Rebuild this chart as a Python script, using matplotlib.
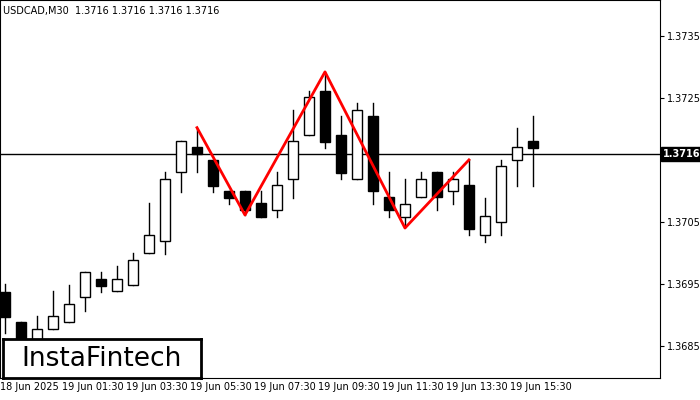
import matplotlib
matplotlib.use("Agg")
import matplotlib.pyplot as plt
from matplotlib.patches import Rectangle

opens  = [1.36937,1.36889,1.36860,1.36877,1.36889,1.36929,1.36958,1.36939,1.36948,1.37000,
          1.37019,1.37131,1.37171,1.37150,1.37100,1.37100,1.37081,1.37069,1.37119,1.37190,
          1.37261,1.37190,1.37119,1.37221,1.37090,1.37058,1.37090,1.37131,1.37100,1.37110,
          1.37029,1.37050,1.37150,1.37181]
highs  = [1.36950,1.36889,1.36898,1.36939,1.36948,1.36969,1.36969,1.36979,1.37000,1.37081,
          1.37131,1.37181,1.37202,1.37150,1.37100,1.37100,1.37100,1.37131,1.37231,1.37261,
          1.37292,1.37221,1.37242,1.37242,1.37131,1.37119,1.37131,1.37131,1.37131,1.37150,
          1.37089,1.37150,1.37202,1.37221]
lows   = [1.36870,1.36844,1.36860,1.36877,1.36889,1.36906,1.36937,1.36939,1.36948,1.37000,
          1.36998,1.37098,1.37131,1.37098,1.37079,1.37061,1.37058,1.37058,1.37089,1.37190,
          1.37169,1.37119,1.37119,1.37079,1.37058,1.37042,1.37090,1.37069,1.37079,1.37029,
          1.37018,1.37029,1.37108,1.37108]
closes = [1.36897,1.36852,1.36877,1.36898,1.36918,1.36969,1.36947,1.36958,1.36989,1.37029,
          1.37119,1.37181,1.37160,1.37108,1.37089,1.37069,1.37058,1.37110,1.37181,1.37252,
          1.37179,1.37129,1.37231,1.37100,1.37069,1.37079,1.37119,1.37090,1.37119,1.37039,
          1.37060,1.37140,1.37171,1.37169]
pattern_x = [12, 15, 20, 25, 29]
pattern_y = [1.37202, 1.37061, 1.37292, 1.37040, 1.37150]
current_price = 1.3716
y_ticks = [1.3685, 1.3695, 1.3705, 1.3715, 1.3725, 1.3735]
y_tick_labels = ["1.3685", "1.3695", "1.3705", "", "1.3725", "1.3735"]
x_tick_pos = [1.55, 5.5, 9.5, 13.5, 17.5, 21.5, 25.5, 29.5, 33.5]
x_tick_labels = ["18 Jun 2025", "19 Jun 01:30", "19 Jun 03:30", "19 Jun 05:30", "19 Jun 07:30",
                 "19 Jun 09:30", "19 Jun 11:30", "19 Jun 13:30", "19 Jun 15:30"]

fig = plt.figure(figsize=(7, 4), dpi=100)
ax = fig.add_axes([0, 0.055, 660/700, 0.945])
ax.set_xlim(-0.3125, 40.94)
ax.set_ylim(1.36798, 1.37408)

w = 0.6
for i, (o, h, l, c) in enumerate(zip(opens, highs, lows, closes)):
    ax.plot([i, i], [l, h], color="black", lw=1, zorder=2)
    bot, top = min(o, c), max(o, c)
    ax.add_patch(Rectangle((i - w/2, bot), w, max(top - bot, 0.00001),
                           facecolor="white" if c >= o else "black",
                           edgecolor="black", lw=1, zorder=3))

ax.axhline(current_price, color="black", lw=1, zorder=1)
ax.plot(pattern_x, pattern_y, color="red", lw=2, zorder=4)

ax.yaxis.tick_right()
ax.set_yticks(y_ticks)
ax.set_yticklabels(y_tick_labels, fontsize=7)
ax.tick_params(axis="y", length=3, pad=2)
ax.set_xticks(x_tick_pos)
ax.set_xticklabels(x_tick_labels, fontsize=7)
ax.tick_params(axis="x", length=0, pad=3)
ax.text(1.005, current_price, "1.3716", transform=ax.get_yaxis_transform(), fontsize=7,
        color="white", fontweight="bold", va="center", ha="left",
        bbox=dict(boxstyle="square,pad=0.2", fc="black", ec="black"), clip_on=False, zorder=6)

ax.text(0.005, 0.985, "USDCAD,M30  1.3716 1.3716 1.3716 1.3716", transform=ax.transAxes,
        fontsize=7, va="top", ha="left")

logo = fig.add_axes([3/700, 22/400, 198/700, 39/400])
logo.set_xticks([]); logo.set_yticks([])
for s in logo.spines.values():
    s.set_linewidth(2)
logo.text(0.5, 0.48, "InstaFintech", ha="center", va="center", fontsize=19, color="black")

fig.savefig("out.png", dpi=100)
